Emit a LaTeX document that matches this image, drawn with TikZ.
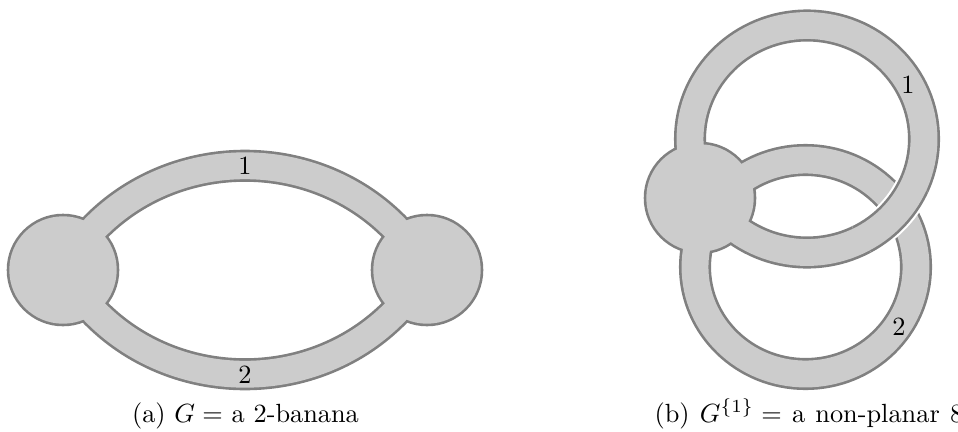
\documentclass[tikz,border=0pt]{standalone}
\definecolor{bordergray}{RGB}{128,128,128}
\definecolor{fillgray}{RGB}{204,204,204}
\begin{document}
\begin{tikzpicture}[x=0.38pt,y=-0.38pt,
  vdark/.style={fill=bordergray},
  vlight/.style={fill=fillgray},
  banddark/.style={draw=bordergray,line width=12.2pt},
  bandlight/.style={draw=fillgray,line width=10.2pt},
  bandgap/.style={draw=white,line width=13.8pt},
  lbl/.style={inner sep=0pt},
  captext/.style={inner sep=0pt,anchor=base},
]
\useasboundingbox (0,0) rectangle (958,431);
% ---------- (a) ----------
\coordinate (L) at (63,270);
\coordinate (R) at (427,270);
\fill[vdark] (L) circle (56.3);
\fill[vdark] (R) circle (56.3);
\draw[banddark] (L) .. controls +(80,-139) and +(-80,-139) .. (R);
\draw[banddark] (L) .. controls +(80,139) and +(-80,139) .. (R);
\fill[vlight] (L) circle (53.7);
\fill[vlight] (R) circle (53.7);
\draw[bandlight] (L) .. controls +(80,-139) and +(-80,-139) .. (R);
\draw[bandlight] (L) .. controls +(80,139) and +(-80,139) .. (R);
\node[lbl] (la1) at (245,166) {1};
\node[lbl] (la2) at (245,375) {2};
\node[captext] (capa) at (245.5,422) {(a) $G =$ a 2-banana};
% ---------- (b) ----------
\coordinate (V) at (700,198);
\coordinate (C1) at (807,139);
\coordinate (C2) at (805.5,267);
\fill[vdark] (V) circle (56.3);
\draw[banddark] (C2) ellipse [x radius=110.5, y radius=107];
\draw[banddark] (C1) ellipse [x radius=117, y radius=113.5];
\fill[vlight] (V) circle (53.7);
\draw[bandlight] (C2) ellipse [x radius=110.5, y radius=107];
\begin{scope}
  \clip (893,216) circle (42);
  \draw[bandgap] (C1) ellipse [x radius=117, y radius=113.5];
  \draw[banddark] (C1) ellipse [x radius=117, y radius=113.5];
\end{scope}
\draw[bandlight] (C1) ellipse [x radius=117, y radius=113.5];
\node[lbl] (lb1) at (908,85) {1};
\node[lbl] (lb2) at (899,327) {2};
\node[captext,anchor=base west] (capb) at (654,422) {\spaceskip=3.9pt (b) $G^{\{1\}} =$ a non-planar 8};
\end{tikzpicture}
\end{document}
